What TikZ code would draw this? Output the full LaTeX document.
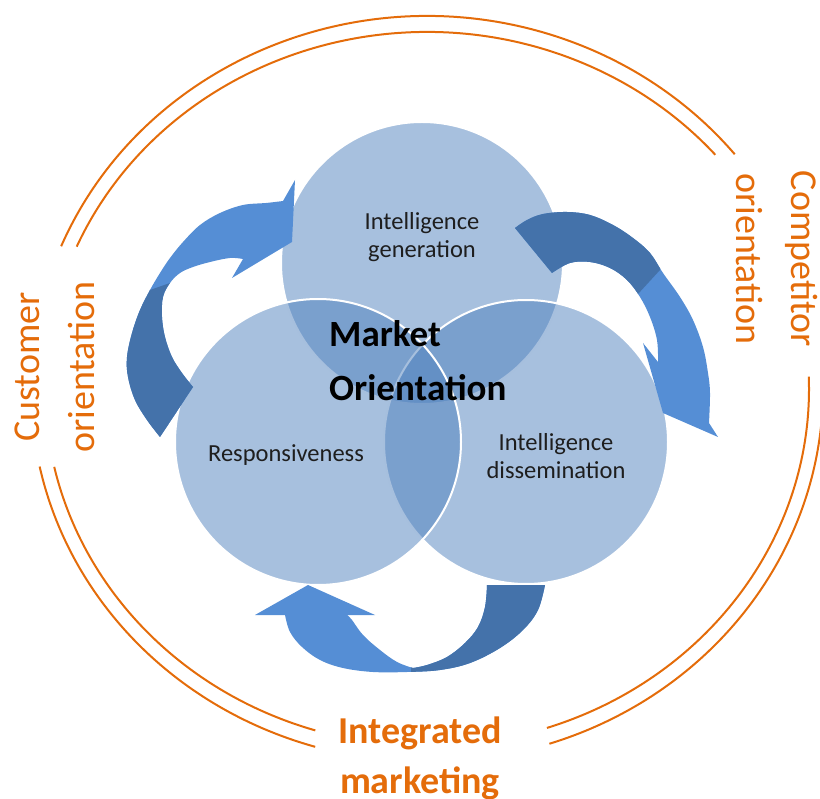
\documentclass[tikz,border=0pt]{standalone}
\usepackage{fontspec}
\setmainfont{Carlito}
\definecolor{vennblue}{HTML}{4F81BD}
\definecolor{arrowdark}{HTML}{4472AA}
\definecolor{arrowlight}{HTML}{558ED5}
\definecolor{ringorange}{HTML}{E46C0A}
\definecolor{inktext}{HTML}{1E1E1E}
\tikzset{
  venn/.style={circle, inner sep=0pt, fill=vennblue, fill opacity=0.5, draw=white, line width=2pt},
  ring/.style={draw=ringorange, line width=2pt},
  inlabel/.style={align=center, text=inktext, font=\fontsize{24.5}{28}\selectfont},
  corelabel/.style={align=left, inner sep=0pt, text=black, font=\bfseries\fontsize{37}{54}\selectfont},
  sidelabel/.style={align=center, inner sep=0pt, text=ringorange, font=\fontsize{38}{55}\selectfont},
}
% outlines of the three bent arrows
\newcommand\leftbend{(295,-180) -- plot[smooth, tension=0.6] coordinates {(283,-201) (266,-203) (243,-205) (220,-213) (200,-225) (183,-242) (170,-258) (160,-273) (150,-290) (140,-310) (132,-333) (127,-357) (128,-377) (135,-400) (147,-420) (160,-437)} -- plot[smooth, tension=0.6] coordinates {(193,-387) (182,-373) (172,-357) (165,-337) (162,-317) (163,-297) (170,-283) (180,-273) (193,-267) (210,-262) (230,-258) (243,-259)} -- (232,-278) -- (292,-242) -- cycle}
\newcommand\rightbend{plot[smooth, tension=0.6] coordinates {(515,-228) (527,-220) (543,-214) (567,-212) (590,-215) (613,-225) (633,-238) (650,-253) (663,-273) (680,-297) (693,-320) (703,-347) (708,-373) (710,-393) (709,-423)} -- (718,-437) -- (663,-413) -- (643,-343) -- plot[smooth, tension=0.6] coordinates {(658,-362) (657,-340) (650,-317) (640,-297) (627,-280) (610,-268) (590,-262) (570,-263) (552,-273)} -- cycle}
\newcommand\bottombend{(308,-585) -- (375,-615) -- plot[smooth, tension=0.6] coordinates {(347,-615) (352,-620) (363,-635) (380,-650) (397,-662) (413,-668)} -- plot[smooth, tension=0.6] coordinates {(413,-668) (427,-665) (447,-657) (465,-643) (478,-627) (485,-607) (487,-585)} -- (545,-585) -- plot[smooth, tension=0.6] coordinates {(545,-585) (538,-610) (523,-630) (500,-648) (470,-663) (440,-670) (407,-672) (373,-672) (343,-668) (320,-660) (302,-647) (290,-632) (285,-615)} -- (255,-615) -- cycle}
\begin{document}
\begin{tikzpicture}[x=1pt, y=1pt]
  \useasboundingbox (0,0) rectangle (820,-799);
  % double orange ring, in three pieces
  \draw[ring] (427,-389) ++(157.5:396pt and 373pt) arc[start angle=157.5, end angle=39, x radius=396pt, y radius=373pt];
  \draw[ring] (427,-389) ++(156.5:382pt and 357pt) arc[start angle=156.5, end angle=41, x radius=382pt, y radius=357pt];
  \draw[ring] (427,-389) ++(192:396pt and 373pt) arc[start angle=192, end angle=253.6, x radius=396pt, y radius=373pt];
  \draw[ring] (427,-389) ++(192.6:382pt and 357pt) arc[start angle=192.6, end angle=253, x radius=382pt, y radius=357pt];
  \draw[ring] (427,-389) ++(-72:396pt and 373pt) arc[start angle=-72, end angle=2, x radius=396pt, y radius=373pt];
  \draw[ring] (427,-389) ++(-71.7:382pt and 357pt) arc[start angle=-71.7, end angle=2, x radius=382pt, y radius=357pt];
  % the three circles
  \node[venn, minimum size=282pt] (gen) at (422,-263) {};
  \node[venn, minimum size=284pt] (diss) at (526,-442) {};
  \node[venn, minimum size=286pt] (resp) at (318,-442) {};
  % arrows, light head and dark tail
  \fill[arrowlight] \leftbend;
  \begin{scope}
    \clip \leftbend;
    \fill[arrowdark] (90,-311) -- (200,-272.5) -- (200,-460) -- (90,-460) -- cycle;
  \end{scope}
  \fill[arrowlight] \rightbend;
  \begin{scope}
    \clip \rightbend;
    \fill[arrowdark] (704,-222) -- (572,-366) -- (480,-366) -- (480,-190) -- (704,-190) -- cycle;
  \end{scope}
  \fill[arrowlight] \bottombend;
  \begin{scope}
    \clip \bottombend;
    \fill[arrowdark] (411,-560) rectangle (560,-700);
  \end{scope}
  % labels
  \node[inlabel] (genlabel) at (422,-237) {Intelligence\\generation};
  \node[inlabel] (resplabel) at (286,-455) {Responsiveness};
  \node[inlabel] (disslabel) at (556,-456) {Intelligence\\dissemination};
  \node[corelabel, anchor=west] (core) at (329,-361) {Market\\Orientation};
  \node[sidelabel, rotate=90] (cust) at (55,-367) {Customer\\orientation};
  \node[sidelabel, rotate=-90] (comp) at (777,-259) {Competitor\\orientation};
  \node[sidelabel, font=\bfseries\fontsize{38}{50}\selectfont] (integ) at (420,-758) {Integrated\\marketing};
\end{tikzpicture}
\end{document}
